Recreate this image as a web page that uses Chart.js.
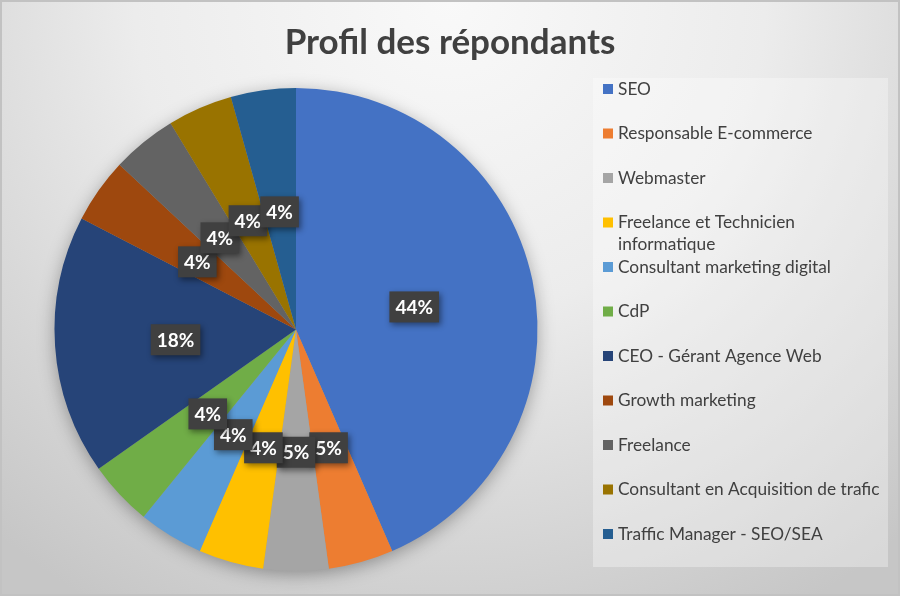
<!DOCTYPE html>
<html lang="fr">
<head>
  <meta charset="UTF-8">
  <title>Profil des répondants</title>
  <script src="https://cdn.jsdelivr.net/npm/chart.js"></script>
  <style>
    html, body {
      margin: 0;
      padding: 0;
      background: #d9d9d9;
    }
    #wrap {
      width: 900px;
      height: 596px;
    }
  </style>
</head>
<body>
<div id="wrap">
  <canvas id="profilChart" width="900" height="596"></canvas>
</div>

<script>
  // données
  const chartTitle = 'Profil des répondants';
  const categories = [
    'SEO',
    'Responsable E-commerce',
    'Webmaster',
    ['Freelance et Technicien', 'informatique'],
    'Consultant marketing digital',
    'CdP',
    'CEO - Gérant Agence Web',
    'Growth marketing',
    'Freelance',
    'Consultant en Acquisition de trafic',
    'Traffic Manager - SEO/SEA'
  ];
  // nombre de répondants estimé d'après la taille des parts (23 au total)
  const respondents = [10, 1, 1, 1, 1, 1, 4, 1, 1, 1, 1];
  // pourcentages tels qu'affichés dans les étiquettes
  const displayedPercents = [44, 5, 5, 4, 4, 4, 18, 4, 4, 4, 4];

  const sliceColors = [
    '#4472c4', '#ed7d31', '#a5a5a5', '#ffc000', '#5b9bd5', '#70ad47',
    '#264478', '#9e480e', '#636363', '#997300', '#255e91'
  ];

  const FONT = 'Lato, "Open Sans", sans-serif';

  // fond dégradé + cadre
  const backgroundPlugin = {
    id: 'background',
    beforeDraw(chart) {
      const { ctx, width, height } = chart;
      const g = ctx.createRadialGradient(450, 0, 0, 450, 0, 700);
      g.addColorStop(0, '#f9f9f9');
      g.addColorStop(0.45, '#ececec');
      g.addColorStop(1, '#c6c6c6');
      ctx.save();
      ctx.fillStyle = g;
      ctx.fillRect(0, 0, width, height);
      ctx.strokeStyle = '#c2c2c2';
      ctx.lineWidth = 2;
      ctx.strokeRect(1, 1, width - 2, height - 2);
      ctx.restore();
    }
  };

  // titre centré sur toute la largeur
  const titlePlugin = {
    id: 'centerTitle',
    afterDraw(chart) {
      const ctx = chart.ctx;
      ctx.save();
      ctx.font = 'bold 35px ' + FONT;
      ctx.fillStyle = '#404040';
      ctx.textAlign = 'center';
      ctx.textBaseline = 'alphabetic';
      ctx.fillText(chartTitle, chart.width / 2, 54);
      ctx.restore();
    }
  };

  // ombre douce sous le camembert
  const pieShadowPlugin = {
    id: 'pieShadow',
    beforeDatasetsDraw(chart) {
      const arc = chart.getDatasetMeta(0).data[0];
      if (!arc) return;
      const ctx = chart.ctx;
      ctx.save();
      ctx.shadowColor = 'rgba(0,0,0,0.35)';
      ctx.shadowBlur = 18;
      ctx.shadowOffsetY = 4;
      ctx.fillStyle = '#999';
      ctx.beginPath();
      ctx.arc(arc.x, arc.y, arc.outerRadius - 1, 0, Math.PI * 2);
      ctx.fill();
      ctx.restore();
    }
  };

  // étiquettes de données (boîtes sombres)
  const dataLabelPlugin = {
    id: 'boxLabels',
    afterDatasetsDraw(chart) {
      const ctx = chart.ctx;
      const meta = chart.getDatasetMeta(0);
      ctx.save();
      ctx.font = 'bold 19px ' + FONT;
      ctx.textAlign = 'center';
      ctx.textBaseline = 'middle';
      meta.data.forEach((arc, i) => {
        const p = arc.tooltipPosition();
        const y = p.y + 2;
        const txt = displayedPercents[i] + '%';
        const w = ctx.measureText(txt).width + 12;
        const h = 31;
        ctx.shadowColor = 'rgba(0,0,0,0.45)';
        ctx.shadowBlur = 6;
        ctx.shadowOffsetX = 2;
        ctx.shadowOffsetY = 3;
        ctx.fillStyle = '#404040';
        ctx.fillRect(p.x - w / 2, y - h / 2, w, h);
        ctx.shadowColor = 'transparent';
        ctx.fillStyle = '#ffffff';
        ctx.fillText(txt, p.x, y + 1);
      });
      ctx.restore();
    }
  };

  // légende à droite
  const legendPlugin = {
    id: 'sideLegend',
    afterDraw(chart) {
      const ctx = chart.ctx;
      const labels = chart.data.labels;
      const colors = chart.data.datasets[0].backgroundColor;
      const box = { x: 593, y: 78, w: 295, h: 489 };
      ctx.save();
      ctx.fillStyle = 'rgba(255,255,255,0.32)';
      ctx.fillRect(box.x, box.y, box.w, box.h);
      ctx.font = '17.3px ' + FONT;
      ctx.textBaseline = 'middle';
      ctx.textAlign = 'left';
      labels.forEach((lab, i) => {
        const cy = 89 + i * 44.5;
        ctx.fillStyle = colors[i];
        ctx.fillRect(603, cy - 5, 10, 10);
        ctx.fillStyle = '#404040';
        const lines = Array.isArray(lab) ? lab : [lab];
        lines.forEach((ln, k) => ctx.fillText(ln, 618, cy + k * 22));
      });
      ctx.restore();
    }
  };

  new Chart(document.getElementById('profilChart'), {
    type: 'pie',
    data: {
      labels: categories,
      datasets: [{
        label: chartTitle,
        data: respondents,
        backgroundColor: sliceColors,
        borderWidth: 0,
        hoverOffset: 0
      }]
    },
    options: {
      responsive: false,
      animation: false,
      layout: {
        padding: { left: 54.5, right: 362.5, top: 88, bottom: 25 }
      },
      plugins: {
        legend: { display: false },
        title: { display: false },
        tooltip: { enabled: false }
      }
    },
    plugins: [backgroundPlugin, pieShadowPlugin, dataLabelPlugin, legendPlugin, titlePlugin]
  });
</script>
</body>
</html>
